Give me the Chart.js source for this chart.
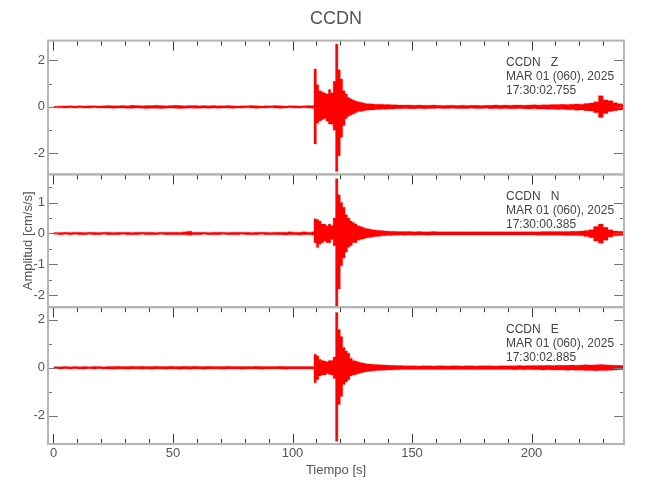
<!DOCTYPE html>
<html lang="es">
<head>
  <meta charset="UTF-8">
  <title>CCDN</title>
  <style>
    html, body { margin: 0; padding: 0; background: #fff; }
    .wrap { width: 650px; height: 500px; }
  </style>
</head>
<body>
  <div class="wrap"><canvas id="sismo" width="650" height="500"></canvas></div>

  <script src="https://cdn.jsdelivr.net/npm/chart.js"></script>
  <script>
    // bins (s): 2 s in the quiet parts, 1 s around the event
    function range(a, b, step) {
      const out = [];
      for (let t = a; t <= b; t += step) out.push(t);
      return out;
    }
    const binTimes = [...range(0, 106, 2), ...range(107, 145, 1), ...range(146, 238, 2)];
    const recordEnd = 239;

    // envelope, per bin: max (hi) and min (lo), cm/s/s
    const zHi = [
      0.03,0.04,0.04,0.05,0.04,0.05,0.04,0.05,0.05,0.04,
      0.05,0.06,0.05,0.05,0.06,0.05,0.07,0.06,0.05,0.06,
      0.06,0.07,0.06,0.05,0.06,0.07,0.06,0.05,0.06,0.06,
      0.05,0.06,0.05,0.06,0.05,0.05,0.06,0.05,0.04,0.05,
      0.05,0.06,0.05,0.04,0.05,0.05,0.06,0.05,0.04,0.05,
      0.05,0.04,0.05,0.06,
      0.05,0.06,1.63,0.95,0.7,0.65,0.6,0.55,0.75,0.6,
      1.1,2.7,1.6,1.2,0.7,0.55,0.4,0.35,0.3,0.25,
      0.22,0.2,0.18,0.15,0.14,0.14,0.13,0.12,0.12,0.11,
      0.11,0.1,0.1,0.1,0.09,0.09,0.09,0.08,0.08,
      0.08,0.08,0.07,0.08,0.07,0.07,0.08,0.07,0.06,0.07,
      0.07,0.06,0.07,0.06,0.07,0.07,0.06,0.07,0.07,0.08,
      0.07,0.08,0.07,0.08,0.08,0.07,0.08,0.09,0.08,0.09,
      0.09,0.1,0.1,0.11,0.1,0.12,0.13,0.12,0.15,0.17,
      0.22,0.48,0.3,0.27,0.18,0.14,0.12
    ];
    const zLo = [
      -0.04,-0.04,-0.05,-0.04,-0.05,-0.04,-0.05,-0.05,-0.04,-0.05,
      -0.05,-0.05,-0.06,-0.05,-0.05,-0.06,-0.06,-0.05,-0.06,-0.07,
      -0.06,-0.06,-0.07,-0.06,-0.05,-0.06,-0.07,-0.06,-0.05,-0.06,
      -0.06,-0.05,-0.06,-0.05,-0.06,-0.05,-0.05,-0.06,-0.05,-0.05,
      -0.04,-0.05,-0.06,-0.05,-0.05,-0.04,-0.05,-0.06,-0.05,-0.04,
      -0.05,-0.05,-0.04,-0.05,
      -0.05,-0.06,-1.59,-0.7,-0.6,-0.55,-0.5,-0.6,-0.73,-0.75,
      -1.0,-2.78,-2.1,-1.3,-0.8,-0.5,-0.4,-0.35,-0.3,-0.25,
      -0.2,-0.2,-0.18,-0.15,-0.14,-0.13,-0.13,-0.12,-0.11,-0.11,
      -0.1,-0.1,-0.1,-0.09,-0.09,-0.09,-0.08,-0.08,-0.08,
      -0.07,-0.08,-0.08,-0.07,-0.08,-0.07,-0.07,-0.06,-0.07,-0.07,
      -0.06,-0.07,-0.07,-0.07,-0.06,-0.07,-0.07,-0.06,-0.08,-0.07,
      -0.08,-0.07,-0.08,-0.08,-0.07,-0.08,-0.09,-0.08,-0.09,-0.09,
      -0.1,-0.1,-0.11,-0.1,-0.12,-0.12,-0.14,-0.13,-0.16,-0.18,
      -0.25,-0.45,-0.28,-0.2,-0.16,-0.13,-0.11
    ];

    const nHi = [
      0.03,0.03,0.04,0.03,0.04,0.04,0.03,0.04,0.04,0.03,
      0.04,0.04,0.03,0.04,0.04,0.04,0.03,0.04,0.04,0.04,
      0.04,0.03,0.04,0.04,0.04,0.04,0.04,0.05,0.07,0.04,
      0.04,0.04,0.03,0.04,0.04,0.04,0.03,0.04,0.04,0.04,
      0.04,0.03,0.04,0.04,0.04,0.03,0.04,0.04,0.04,0.05,
      0.04,0.04,0.05,0.04,
      0.04,0.05,0.47,0.45,0.4,0.3,0.3,0.25,0.3,0.25,
      0.5,1.77,1.25,1.0,0.85,0.6,0.5,0.4,0.35,0.3,
      0.25,0.22,0.2,0.17,0.15,0.14,0.12,0.11,0.1,0.09,
      0.09,0.08,0.08,0.07,0.07,0.07,0.06,0.06,0.06,
      0.06,0.06,0.05,0.06,0.05,0.05,0.06,0.05,0.05,0.05,
      0.05,0.05,0.05,0.05,0.05,0.05,0.05,0.05,0.05,0.05,
      0.05,0.05,0.05,0.05,0.05,0.05,0.05,0.05,0.05,0.06,
      0.06,0.06,0.06,0.06,0.06,0.07,0.07,0.08,0.09,0.12,
      0.22,0.3,0.2,0.12,0.08,0.07,0.06
    ];
    const nLo = [
      -0.03,-0.04,-0.03,-0.04,-0.03,-0.04,-0.04,-0.03,-0.04,-0.04,
      -0.03,-0.04,-0.04,-0.04,-0.03,-0.04,-0.04,-0.04,-0.03,-0.04,
      -0.04,-0.04,-0.03,-0.04,-0.04,-0.04,-0.04,-0.04,-0.06,-0.04,
      -0.04,-0.03,-0.04,-0.04,-0.04,-0.03,-0.04,-0.04,-0.04,-0.03,
      -0.04,-0.04,-0.04,-0.03,-0.04,-0.04,-0.04,-0.04,-0.05,-0.04,
      -0.04,-0.05,-0.04,-0.04,
      -0.04,-0.05,-0.3,-0.46,-0.35,-0.3,-0.25,-0.3,-0.3,-0.2,
      -0.4,-2.39,-1.8,-1.05,-0.8,-0.6,-0.45,-0.4,-0.3,-0.3,
      -0.22,-0.2,-0.18,-0.16,-0.14,-0.13,-0.12,-0.1,-0.1,-0.09,
      -0.08,-0.08,-0.07,-0.07,-0.07,-0.06,-0.06,-0.06,-0.05,
      -0.06,-0.05,-0.06,-0.05,-0.05,-0.06,-0.05,-0.05,-0.05,-0.05,
      -0.05,-0.05,-0.05,-0.05,-0.05,-0.05,-0.05,-0.05,-0.05,-0.05,
      -0.05,-0.05,-0.05,-0.05,-0.05,-0.05,-0.05,-0.05,-0.06,-0.06,
      -0.06,-0.06,-0.06,-0.06,-0.07,-0.07,-0.07,-0.08,-0.1,-0.14,
      -0.25,-0.32,-0.22,-0.12,-0.08,-0.07,-0.06
    ];

    const eHi = [
      0.04,0.04,0.05,0.04,0.05,0.04,0.05,0.04,0.05,0.05,
      0.04,0.05,0.05,0.06,0.05,0.05,0.06,0.05,0.06,0.05,
      0.05,0.06,0.05,0.05,0.06,0.05,0.05,0.06,0.05,0.06,
      0.05,0.05,0.06,0.05,0.05,0.05,0.06,0.05,0.05,0.05,
      0.05,0.05,0.06,0.05,0.05,0.05,0.05,0.06,0.05,0.05,
      0.05,0.05,0.05,0.05,
      0.05,0.05,0.56,0.5,0.35,0.3,0.28,0.25,0.3,0.3,
      0.45,2.31,1.6,1.3,0.84,0.7,0.6,0.4,0.3,0.28,
      0.25,0.22,0.2,0.18,0.16,0.15,0.14,0.13,0.13,0.12,
      0.12,0.11,0.11,0.1,0.1,0.1,0.09,0.09,0.09,
      0.08,0.08,0.08,0.07,0.08,0.08,0.07,0.08,0.08,0.07,
      0.08,0.08,0.07,0.08,0.08,0.07,0.08,0.08,0.08,0.07,
      0.08,0.08,0.08,0.08,0.09,0.08,0.09,0.09,0.09,0.09,
      0.1,0.09,0.1,0.1,0.1,0.11,0.1,0.11,0.12,0.11,
      0.12,0.13,0.12,0.11,0.1,0.1,0.09
    ];
    const eLo = [
      -0.04,-0.05,-0.04,-0.05,-0.04,-0.05,-0.05,-0.04,-0.05,-0.04,
      -0.05,-0.05,-0.06,-0.05,-0.05,-0.06,-0.05,-0.05,-0.06,-0.05,
      -0.06,-0.05,-0.05,-0.06,-0.05,-0.05,-0.06,-0.05,-0.06,-0.05,
      -0.05,-0.06,-0.05,-0.05,-0.05,-0.06,-0.05,-0.05,-0.05,-0.06,
      -0.05,-0.05,-0.05,-0.06,-0.05,-0.05,-0.05,-0.05,-0.06,-0.05,
      -0.05,-0.05,-0.05,-0.05,
      -0.05,-0.05,-0.63,-0.5,-0.35,-0.3,-0.3,-0.25,-0.28,-0.3,
      -0.45,-3.08,-1.54,-1.2,-0.7,-0.6,-0.5,-0.35,-0.3,-0.28,
      -0.25,-0.22,-0.2,-0.18,-0.16,-0.15,-0.14,-0.13,-0.12,-0.12,
      -0.11,-0.11,-0.1,-0.1,-0.1,-0.09,-0.09,-0.09,-0.08,
      -0.08,-0.07,-0.08,-0.08,-0.07,-0.08,-0.08,-0.07,-0.08,-0.08,
      -0.07,-0.08,-0.08,-0.07,-0.08,-0.08,-0.07,-0.08,-0.07,-0.08,
      -0.08,-0.08,-0.08,-0.09,-0.08,-0.09,-0.08,-0.09,-0.09,-0.1,
      -0.09,-0.1,-0.1,-0.1,-0.11,-0.1,-0.11,-0.11,-0.12,-0.12,
      -0.13,-0.12,-0.12,-0.11,-0.1,-0.09,-0.09
    ];

    // axis ticks
    const xLabels = [0, 50, 100, 150, 200];
    const xMinor = [10, 20, 30, 40, 60, 70, 80, 90, 110, 120, 130, 140, 160, 170, 180, 190, 210, 220, 230];
    const zLabels = [-2, 0, 2], zMinor = [-1, 1];
    const nLabels = [-2, -1, 0, 1], nMinor = [-1.5, -0.5, 0.5, 1.5];
    const eLabels = [-2, 0, 2], eMinor = [-1, 1];

    const infoZ = ['CCDN   Z', 'MAR 01 (060), 2025', '17:30:02.755'];
    const infoN = ['CCDN   N', 'MAR 01 (060), 2025', '17:30:00.385'];
    const infoE = ['CCDN   E', 'MAR 01 (060), 2025', '17:30:02.885'];

    const panels = [
      { id: 'yZ', labels: zLabels, minor: zMinor, info: infoZ },
      { id: 'yN', labels: nLabels, minor: nMinor, info: infoN },
      { id: 'yE', labels: eLabels, minor: eMinor, info: infoE }
    ];

    // one step per bin, held until the next bin starts
    function envelope(vals) {
      const pts = binTimes.map((t, i) => ({ x: t, y: vals[i] }));
      pts.push({ x: recordEnd, y: vals[vals.length - 1] });
      return pts;
    }

    const font = '"Liberation Sans", Arimo, Arial, sans-serif';
    Chart.defaults.font.family = font;
    Chart.defaults.color = '#555';

    function yScale(min, max, labels, weight, stackWeight, title) {
      return {
        type: 'linear',
        position: 'left',
        stack: 'comp',
        stackWeight: stackWeight,
        weight: weight,
        min: min,
        max: max,
        afterBuildTicks: s => { s.ticks = labels.map(v => ({ value: v })); },
        afterFit: s => { s.width = 48; },
        ticks: { color: '#555', font: { size: 13 }, padding: 3, callback: v => String(v) },
        grid: { display: false, drawTicks: false },
        border: { display: false },
        title: title
          ? { display: true, text: title, color: '#555', font: { size: 13 }, padding: { top: 21, bottom: 0 } }
          : { display: false }
      };
    }

    // frame, inward ticks and the station text of every panel
    const framePlugin = {
      id: 'frame',
      afterDatasetsDraw(chart) {
        const ctx = chart.ctx;
        const x = chart.scales.x;
        const { left, right } = chart.chartArea;
        panels.forEach((p, k) => {
          const y = chart.scales[p.id];
          const last = k === panels.length - 1;
          ctx.save();

          ctx.lineWidth = 1;
          ctx.strokeStyle = '#3a3a3a';
          ctx.beginPath();
          const xTick = (v, len) => {
            const px = Math.round(x.getPixelForValue(v)) + 0.5;
            ctx.moveTo(px, y.top); ctx.lineTo(px, y.top + len);
            if (last) { ctx.moveTo(px, y.bottom); ctx.lineTo(px, y.bottom - len); }
          };
          xLabels.forEach(v => xTick(v, 10));
          xMinor.forEach(v => xTick(v, 5));
          ctx.stroke();

          ctx.strokeStyle = '#777';
          ctx.beginPath();
          const yTick = (v, len) => {
            const py = Math.round(y.getPixelForValue(v)) + 0.5;
            ctx.moveTo(left, py); ctx.lineTo(left + len, py);
            ctx.moveTo(right, py); ctx.lineTo(right - len, py);
          };
          p.labels.forEach(v => yTick(v, 10));
          p.minor.forEach(v => yTick(v, 4));
          ctx.stroke();

          ctx.strokeStyle = '#b4b4b4';
          ctx.lineWidth = 2;
          ctx.strokeRect(left, y.top, right - left, y.bottom - y.top);

          ctx.fillStyle = '#444';
          ctx.font = '12px ' + font;
          ctx.textBaseline = 'middle';
          ctx.textAlign = 'left';
          p.info.forEach((line, i) => ctx.fillText(line, left + 458, y.top + 22 + i * 14));
          ctx.restore();
        });
      }
    };

    const red = '#ff0000';
    const edge = 'rgba(255, 0, 0, 0.3)';
    const hiStyle = { borderColor: edge, backgroundColor: red, borderWidth: 1, pointRadius: 0, stepped: 'before', fill: '+1' };
    const loStyle = { borderColor: edge, borderWidth: 1, pointRadius: 0, stepped: 'before', fill: false };

    new Chart(document.getElementById('sismo'), {
      type: 'line',
      data: {
        datasets: [
          { label: 'Z max', data: envelope(zHi), yAxisID: 'yZ', ...hiStyle },
          { label: 'Z min', data: envelope(zLo), yAxisID: 'yZ', ...loStyle },
          { label: 'N max', data: envelope(nHi), yAxisID: 'yN', ...hiStyle },
          { label: 'N min', data: envelope(nLo), yAxisID: 'yN', ...loStyle },
          { label: 'E max', data: envelope(eHi), yAxisID: 'yE', ...hiStyle },
          { label: 'E min', data: envelope(eLo), yAxisID: 'yE', ...loStyle }
        ]
      },
      options: {
        responsive: false,
        animation: false,
        devicePixelRatio: 1,
        layout: { padding: { left: 0, right: 26, top: 0, bottom: 0 } },
        plugins: {
          legend: { display: false },
          tooltip: { enabled: false },
          title: {
            display: true,
            text: 'CCDN',
            fullSize: false,
            color: '#555',
            font: { size: 18, weight: 'normal' },
            padding: { top: 8, bottom: 11 }
          }
        },
        scales: {
          x: {
            type: 'linear',
            position: 'bottom',
            min: -2.3,
            max: 238.7,
            afterBuildTicks: s => { s.ticks = xLabels.map(v => ({ value: v })); },
            afterFit: s => { s.height = 56; },
            ticks: { color: '#555', font: { size: 13 }, padding: 2, maxRotation: 0, autoSkip: false },
            grid: { display: false, drawTicks: false },
            border: { display: false },
            title: { display: true, text: 'Tiempo [s]', color: '#555', font: { size: 13 }, padding: { top: 0, bottom: 22 } }
          },
          yZ: yScale(-2.9, 2.85, zLabels, 3, 134, null),
          yN: yScale(-2.39, 1.91, nLabels, 2, 133, 'Amplitud [cm/s/s]'),
          yE: yScale(-3.19, 2.53, eLabels, 1, 137, null)
        }
      },
      plugins: [framePlugin]
    });
  </script>
</body>
</html>
